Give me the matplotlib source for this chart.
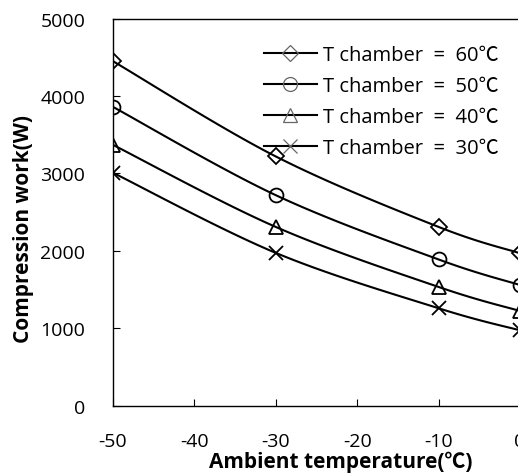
import numpy as np
import matplotlib
matplotlib.use('agg')
import matplotlib.pyplot as plt

plt.rcParams['font.family'] = ['Open Sans', 'Noto Sans CJK KR', 'DejaVu Sans']
plt.rcParams['axes.unicode_minus'] = False

# Data
ambient = [-50, -30, -10, 0]
work_60 = [4450, 3220, 2310, 1970]
work_50 = [3860, 2720, 1890, 1560]
work_40 = [3370, 2310, 1535, 1225]
work_30 = [3010, 1975, 1260, 975]
labels = ['T chamber  =  60℃', 'T chamber  =  50℃', 'T chamber  =  40℃', 'T chamber  =  30℃']
markers = ['D', 'o', '^', 'x']
msizes = [8, 10, 10, 10]


# Catmull-Rom smoothing, like the spreadsheet "smoothed line" option
def smooth(x, y, n=40):
    pts = np.column_stack([x, y]).astype(float)
    out = []
    for i in range(len(pts) - 1):
        p0 = pts[i - 1] if i > 0 else pts[i]
        p1 = pts[i]
        p2 = pts[i + 1]
        p3 = pts[i + 2] if i + 2 < len(pts) else pts[i + 1]
        t = np.linspace(0, 1, n)[:, None]
        seg = 0.5 * ((2 * p1) + (-p0 + p2) * t + (2 * p0 - 5 * p1 + 4 * p2 - p3) * t ** 2
                     + (-p0 + 3 * p1 - 3 * p2 + p3) * t ** 3)
        out.append(seg if i == 0 else seg[1:])
    out = np.vstack(out)
    return out[:, 0], out[:, 1]


fig = plt.figure(figsize=(5.18, 4.77), dpi=100)
ax = fig.add_axes([0.218, 0.147, 0.786, 0.812])

series = [work_60, work_50, work_40, work_30]
for vals, lab, mk, ms in zip(series, labels, markers, msizes):
    sx, sy = smooth(ambient, vals)
    ax.plot(sx, sy, color='k', lw=1.5, zorder=2)
    ax.plot(ambient, vals, linestyle='none', marker=mk, ms=ms, mfc='none',
            mec='k', mew=1.3, zorder=3)
    # legend proxy
    ax.plot([], [], color='k', lw=1.5, marker=mk, ms=ms, mfc='none',
            mec='#666666', mew=0.9, label=lab)

ax.set_xlim(-50, 0)
ax.set_ylim(0, 5000)
ax.set_xticks([-50, -40, -30, -20, -10, 0])
ax.set_yticks([0, 1000, 2000, 3000, 4000, 5000])
ax.tick_params(axis='x', direction='in', length=5, pad=19, labelsize=14)
ax.tick_params(axis='y', direction='in', length=5, pad=20, labelsize=14)
for s in ax.spines.values():
    s.set_linewidth(1.0)

ax.set_xlabel('Ambient temperature(℃)', fontsize=15, fontweight='bold')
ax.set_ylabel('Compression work(W)', fontsize=15, fontweight='bold')
ax.xaxis.set_label_coords(0.56, -0.115)
ax.yaxis.set_label_coords(-0.193, 0.46)

ax.legend(loc='upper right', bbox_to_anchor=(0.962, 0.903), bbox_transform=fig.transFigure,
          frameon=False, fontsize=14.5, handlelength=2.6, handletextpad=0.3,
          labelspacing=0.55, borderaxespad=0, borderpad=0)

plt.savefig('out.png', dpi=100)
